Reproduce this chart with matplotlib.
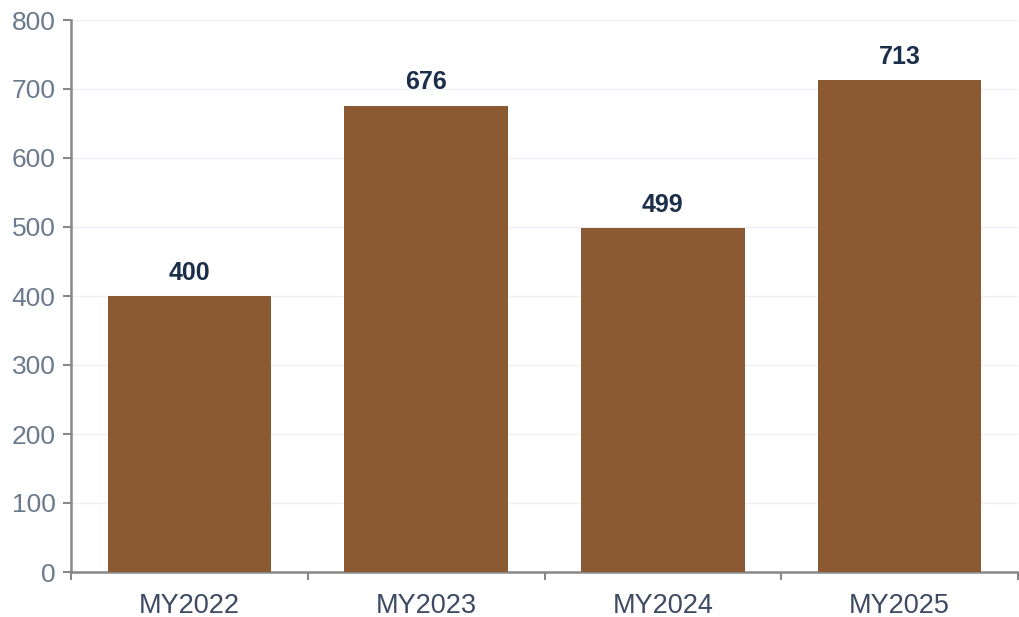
import matplotlib
matplotlib.use("Agg")
import matplotlib.pyplot as plt
import numpy as np

categories = ["MY2022", "MY2023", "MY2024", "MY2025"]
values = [400, 676, 499, 713]
yticks = [0, 100, 200, 300, 400, 500, 600, 700, 800]

plt.rcParams['font.family'] = ['Liberation Sans', 'DejaVu Sans']

fig = plt.figure(figsize=(10.2, 6.17), dpi=100)
ax = fig.add_axes([71/1020, 1-572/617, (1018-71)/1020, (572-20)/617])

x = np.arange(len(categories))
ax.bar(x, values, width=0.69, color="#8B5A32", zorder=3)

for xi, v in zip(x, values):
    ax.annotate(f"{v}", (xi, v), xytext=(0, 8), textcoords="offset points",
                ha="center", va="bottom", fontsize=18, fontweight="bold",
                color="#1B2F4B", zorder=4)

ax.set_xlim(-0.5, len(categories) - 0.5)
ax.set_ylim(0, 800)
ax.set_yticks(yticks)
ax.set_yticklabels([str(t) for t in yticks])
ax.set_xticks(x)
ax.set_xticklabels(categories)
ax.set_xticks(np.arange(-0.5, len(categories), 1.0), minor=True)

ax.tick_params(axis="x", which="major", length=0, pad=15, labelsize=19.5, labelcolor="#3C4A63")
ax.tick_params(axis="x", which="minor", length=6, width=1.5, color="#888888", direction="out")
ax.tick_params(axis="y", length=6, width=1.5, color="#888888", pad=5, labelsize=19, labelcolor="#6B7A8C")

ax.grid(axis="y", color="#EEF0F5", linewidth=1, zorder=0)
for s in ["top", "right"]:
    ax.spines[s].set_visible(False)
for s in ["left", "bottom"]:
    ax.spines[s].set_color("#888888")
    ax.spines[s].set_linewidth(1.8)

fig.savefig("out.png", dpi=100)
